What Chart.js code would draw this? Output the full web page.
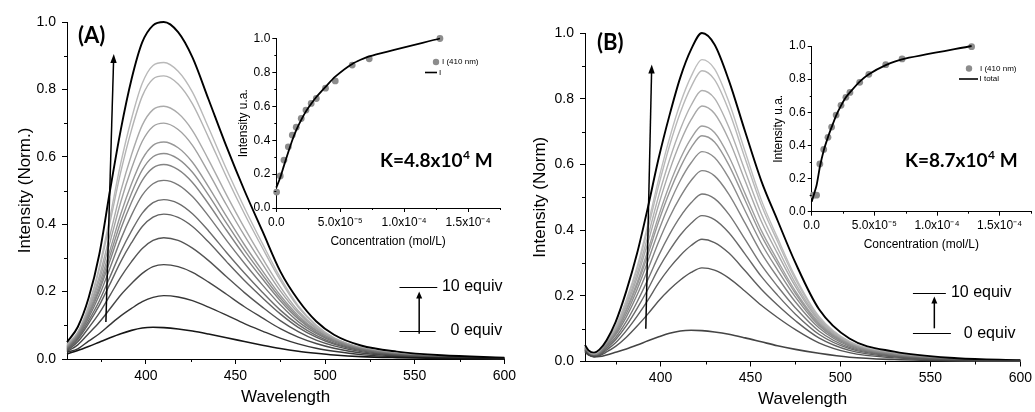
<!DOCTYPE html>
<html><head><meta charset="utf-8">
<script src="https://cdn.jsdelivr.net/npm/chart.js@4/dist/chart.umd.min.js"></script>
<style>
html,body{margin:0;padding:0;background:#fff;}
#wrap{position:relative;width:1035px;height:412px;overflow:hidden;background:#fff;}
canvas{position:absolute;}
</style></head><body>
<div id="wrap">
<canvas id="mainA" width="520" height="412" style="left:0;top:0"></canvas>
<canvas id="mainB" width="515" height="412" style="left:520px;top:0"></canvas>
<canvas id="insetA" width="285" height="230" style="left:225px;top:25px"></canvas>
<canvas id="insetB" width="275" height="228" style="left:760px;top:30px"></canvas>
</div>
<script>
// ---------------- DATA ----------------
// Panel A: wavelengths (nm) and normalized intensity for each titration step
const WL_A = [356,362,368,374,380,386,392,398,404,410,418,426,435,445,455,465,475,485,495,505,520,540,565,600];
const A_00 = [0.015,0.025,0.037,0.05,0.063,0.075,0.085,0.092,0.094,0.093,0.089,0.083,0.074,0.063,0.052,0.041,0.031,0.023,0.017,0.012,0.007,0.004,0.002,0.001];
const A_01 = [0.02,0.030,0.053,0.075,0.102,0.128,0.150,0.170,0.183,0.188,0.184,0.173,0.154,0.130,0.105,0.083,0.062,0.045,0.032,0.023,0.013,0.007,0.003,0.001];
const A_02 = [0.022,0.042,0.075,0.109,0.149,0.190,0.224,0.254,0.274,0.28,0.274,0.257,0.228,0.192,0.155,0.122,0.090,0.065,0.046,0.032,0.018,0.009,0.004,0.001];
const A_03 = [0.024,0.051,0.092,0.136,0.189,0.243,0.289,0.328,0.352,0.36,0.352,0.329,0.292,0.244,0.197,0.154,0.114,0.081,0.056,0.039,0.022,0.011,0.005,0.002];
const A_04 = [0.026,0.058,0.105,0.159,0.223,0.289,0.345,0.393,0.421,0.43,0.420,0.393,0.347,0.289,0.233,0.182,0.134,0.094,0.065,0.044,0.025,0.012,0.006,0.002];
const A_05 = [0.028,0.062,0.113,0.172,0.244,0.318,0.380,0.433,0.464,0.473,0.462,0.431,0.380,0.316,0.255,0.198,0.145,0.102,0.070,0.047,0.027,0.013,0.006,0.002];
const A_06 = [0.03,0.066,0.122,0.189,0.270,0.355,0.427,0.486,0.520,0.53,0.517,0.482,0.424,0.352,0.284,0.220,0.161,0.111,0.076,0.051,0.029,0.014,0.006,0.002];
const A_07 = [0.032,0.070,0.129,0.202,0.292,0.386,0.465,0.530,0.567,0.577,0.562,0.524,0.460,0.382,0.307,0.238,0.173,0.119,0.080,0.054,0.030,0.015,0.006,0.003];
const A_08 = [0.034,0.071,0.134,0.210,0.307,0.407,0.492,0.561,0.600,0.61,0.594,0.554,0.486,0.403,0.323,0.250,0.181,0.124,0.084,0.056,0.031,0.015,0.007,0.003];
const A_09 = [0.036,0.073,0.138,0.220,0.323,0.430,0.520,0.593,0.634,0.644,0.627,0.584,0.511,0.423,0.339,0.262,0.189,0.129,0.086,0.057,0.032,0.015,0.007,0.003];
const A_10 = [0.038,0.076,0.144,0.233,0.347,0.466,0.565,0.646,0.690,0.70,0.681,0.634,0.553,0.457,0.366,0.282,0.202,0.137,0.090,0.060,0.032,0.015,0.007,0.003];
const A_11 = [0.04,0.077,0.149,0.245,0.368,0.498,0.606,0.694,0.740,0.75,0.729,0.678,0.591,0.487,0.389,0.299,0.214,0.143,0.094,0.061,0.033,0.016,0.007,0.003];
const A_12 = [0.043,0.079,0.156,0.265,0.406,0.555,0.680,0.780,0.831,0.84,0.816,0.757,0.657,0.540,0.431,0.330,0.234,0.154,0.099,0.063,0.034,0.016,0.007,0.003];
const A_13 = [0.045,0.079,0.158,0.273,0.422,0.581,0.713,0.818,0.871,0.88,0.854,0.792,0.686,0.563,0.449,0.343,0.242,0.158,0.101,0.063,0.033,0.016,0.007,0.003];
const A_14 = [0.05,0.095,0.18,0.31,0.50,0.68,0.83,0.94,0.99,1.0,0.97,0.895,0.77,0.63,0.50,0.38,0.26,0.175,0.112,0.072,0.04,0.022,0.011,0.004];

// Panel B
const WL_B = [358,360,363,366,370,375,381,387,393,399,405,411,417,423,430,438,447,456,465,475,488,505,530,565,600];
const B_00 = [0.03,0.02,0.014,0.015,0.02,0.028,0.038,0.05,0.063,0.075,0.086,0.093,0.095,0.094,0.09,0.083,0.072,0.06,0.048,0.037,0.025,0.013,0.006,0.002,0.001];
const B_01 = [0.032,0.02,0.015,0.018,0.029,0.046,0.074,0.108,0.145,0.185,0.219,0.248,0.271,0.285,0.278,0.254,0.214,0.171,0.134,0.097,0.057,0.027,0.011,0.004,0.001];
const B_02 = [0.034,0.021,0.016,0.019,0.035,0.057,0.094,0.138,0.187,0.240,0.285,0.323,0.353,0.372,0.362,0.330,0.276,0.220,0.172,0.124,0.072,0.034,0.014,0.005,0.001];
const B_03 = [0.035,0.022,0.016,0.020,0.040,0.066,0.109,0.162,0.220,0.284,0.338,0.385,0.421,0.444,0.432,0.392,0.327,0.259,0.202,0.144,0.083,0.039,0.016,0.005,0.002];
const B_04 = [0.036,0.023,0.017,0.022,0.045,0.073,0.122,0.182,0.250,0.323,0.387,0.441,0.483,0.51,0.496,0.448,0.372,0.294,0.229,0.163,0.093,0.043,0.018,0.006,0.002];
const B_05 = [0.038,0.024,0.018,0.024,0.049,0.081,0.136,0.203,0.281,0.365,0.439,0.501,0.551,0.581,0.565,0.509,0.421,0.331,0.257,0.181,0.103,0.047,0.020,0.006,0.002];
const B_06 = [0.039,0.025,0.018,0.025,0.051,0.086,0.146,0.220,0.306,0.399,0.481,0.551,0.605,0.639,0.621,0.558,0.459,0.360,0.279,0.196,0.110,0.050,0.021,0.007,0.002];
const B_07 = [0.040,0.026,0.019,0.026,0.054,0.090,0.155,0.233,0.326,0.427,0.516,0.591,0.651,0.687,0.668,0.598,0.491,0.384,0.297,0.207,0.115,0.053,0.022,0.007,0.003];
const B_08 = [0.041,0.026,0.019,0.027,0.054,0.092,0.160,0.241,0.339,0.444,0.538,0.617,0.679,0.717,0.697,0.624,0.511,0.399,0.308,0.214,0.119,0.054,0.023,0.007,0.003];
const B_09 = [0.042,0.027,0.020,0.028,0.057,0.097,0.169,0.256,0.363,0.478,0.581,0.668,0.736,0.778,0.755,0.675,0.550,0.427,0.329,0.228,0.125,0.056,0.024,0.008,0.003];
const B_10 = [0.043,0.028,0.021,0.029,0.058,0.101,0.176,0.268,0.382,0.505,0.614,0.707,0.780,0.825,0.801,0.713,0.580,0.450,0.346,0.238,0.130,0.058,0.025,0.008,0.003];
const B_11 = [0.044,0.029,0.021,0.030,0.059,0.104,0.184,0.282,0.405,0.537,0.657,0.758,0.836,0.885,0.858,0.763,0.618,0.477,0.366,0.250,0.135,0.060,0.026,0.008,0.003];
const B_12 = [0.045,0.030,0.022,0.031,0.060,0.106,0.188,0.289,0.418,0.556,0.680,0.786,0.868,0.919,0.891,0.790,0.639,0.492,0.377,0.257,0.138,0.061,0.026,0.008,0.003];
const B_13 = [0.05,0.034,0.027,0.036,0.065,0.12,0.215,0.33,0.47,0.62,0.75,0.865,0.95,1.0,0.965,0.855,0.70,0.55,0.43,0.30,0.16,0.07,0.03,0.01,0.004];

// Insets: intensity at 410 nm vs concentration, and fitted curve
const INS_A_CONC = [2.6e-7,3.1e-6,6.0e-6,9.4e-6,1.25e-5,1.56e-5,1.95e-5,2.32e-5,2.73e-5,3.13e-5,3.85e-5,4.61e-5,5.94e-5,7.27e-5,1.28e-4];
const INS_A_I    = [0.094,0.189,0.283,0.361,0.430,0.477,0.528,0.578,0.617,0.646,0.707,0.750,0.843,0.880,1.0];
const INS_A_FITX = [0,3.1e-6,6.0e-6,9.4e-6,1.25e-5,1.56e-5,1.95e-5,2.32e-5,2.73e-5,3.13e-5,3.85e-5,4.61e-5,5.94e-5,7.27e-5,1.28e-4];
const INS_A_FIT  = [0.12,0.18,0.25,0.33,0.40,0.46,0.52,0.57,0.615,0.655,0.715,0.775,0.85,0.895,1.0];

const INS_B_CONC = [1.3e-6,3.9e-6,6.5e-6,9.6e-6,1.30e-5,1.59e-5,1.95e-5,2.34e-5,2.73e-5,3.05e-5,3.83e-5,4.56e-5,5.91e-5,7.21e-5,1.276e-4];
const INS_B_I    = [0.10,0.10,0.288,0.376,0.449,0.511,0.583,0.642,0.690,0.720,0.781,0.829,0.887,0.922,0.996];
const INS_B_FITX = [0,3.9e-6,6.5e-6,9.6e-6,1.30e-5,1.59e-5,1.95e-5,2.34e-5,2.73e-5,3.05e-5,3.83e-5,4.56e-5,5.91e-5,7.21e-5,1.276e-4];
const INS_B_FIT  = [0.06,0.16,0.27,0.37,0.45,0.51,0.58,0.64,0.69,0.72,0.785,0.83,0.885,0.92,1.0];

// Ticks
const MAIN_X_TICKS = [400,450,500,550,600];
const MAIN_X_MINOR = [375,425,475,525,575];
const MAIN_Y_TICKS = [0,0.2,0.4,0.6,0.8,1.0];
const MAIN_Y_MINOR = [0.1,0.3,0.5,0.7,0.9];
const INS_X_TICKS = [0,5e-5,1e-4,1.5e-4];
const INS_X_LABELS = ['0.0','5.0x10\u207B\u2075','1.0x10\u207B\u2074','1.5x10\u207B\u2074'];
const INS_X_MINOR = [2.5e-5,7.5e-5,1.25e-4,1.75e-4];
const INS_Y_TICKS = [0,0.2,0.4,0.6,0.8,1.0];
const INS_Y_MINOR = [0.1,0.3,0.5,0.7,0.9];

// ---------------- RENDERING ----------------
Chart.defaults.font.family = "'Liberation Sans', Arial, sans-serif";
Chart.defaults.color = '#000';

const SERIES_A = [A_00,A_01,A_02,A_03,A_04,A_05,A_06,A_07,A_08,A_09,A_10,A_11,A_12,A_13,A_14];
const COLORS_A = ['#161616','#363636','#474747','#555555','#626262','#6c6c6c','#787878','#838383','#8d8d8d','#979797','#a1a1a1','#aaaaaa','#b3b3b3','#b9b9b9','#000000'];
const SERIES_B = [B_00,B_01,B_02,B_03,B_04,B_05,B_06,B_07,B_08,B_09,B_10,B_11,B_12,B_13];
const COLORS_B = ['#444444','#555555','#5f5f5f','#6a6a6a','#767676','#828282','#8c8c8c','#969696','#9f9f9f','#a8a8a8','#b0b0b0','#b8b8b8','#bdbdbd','#000000'];

const minorTicks = {
  id: 'minorTicks',
  afterDraw(chart, args, opts) {
    const {ctx, chartArea} = chart; const x = chart.scales.x, y = chart.scales.y;
    ctx.save(); ctx.strokeStyle = '#000'; ctx.lineWidth = 1; ctx.beginPath();
    (opts.x || []).forEach(v => { const px = Math.round(x.getPixelForValue(v)) + 0.5; ctx.moveTo(px, chartArea.bottom); ctx.lineTo(px, chartArea.bottom + opts.len); });
    (opts.y || []).forEach(v => { const py = Math.round(y.getPixelForValue(v)) + 0.5; ctx.moveTo(chartArea.left, py); ctx.lineTo(chartArea.left - opts.len, py); });
    ctx.stroke(); ctx.restore();
  }
};

function arrow(ctx, x0, y0, x1, y1, head, w) {
  const a = Math.atan2(y1 - y0, x1 - x0);
  ctx.beginPath(); ctx.moveTo(x0, y0); ctx.lineTo(x1 - Math.cos(a) * head * 0.6, y1 - Math.sin(a) * head * 0.6); ctx.stroke();
  ctx.beginPath();
  ctx.moveTo(x1, y1);
  ctx.lineTo(x1 - head * Math.cos(a) + w * Math.sin(a), y1 - head * Math.sin(a) - w * Math.cos(a));
  ctx.lineTo(x1 - head * Math.cos(a) - w * Math.sin(a), y1 - head * Math.sin(a) + w * Math.cos(a));
  ctx.closePath(); ctx.fill();
}

function kText(ctx, x, y, base, sup, tail) {
  ctx.textAlign = 'left'; ctx.textBaseline = 'alphabetic';
  ctx.font = "bold 19px Lato, 'Open Sans', sans-serif"; ctx.fillText(base, x, y);
  let w = ctx.measureText(base).width;
  ctx.font = "bold 12px Lato, 'Open Sans', sans-serif"; ctx.fillText(sup, x + w + 0.5, y - 8);
  w += ctx.measureText(sup).width + 0.5;
  ctx.font = "bold 19px Lato, 'Open Sans', sans-serif"; ctx.fillText(tail, x + w, y);
}

function makeAnnot(id, cfg) {
  return {
    id,
    afterDraw(chart) {
      const ctx = chart.ctx, xs = chart.scales.x, ys = chart.scales.y;
      const X = v => xs.getPixelForValue(v), Y = v => ys.getPixelForValue(v);
      ctx.save();
      ctx.strokeStyle = '#000'; ctx.fillStyle = '#000'; ctx.lineWidth = 1.5;
      // long arrow
      arrow(ctx, X(cfg.arrow[0]), Y(cfg.arrow[1]), X(cfg.arrow[2]), Y(cfg.arrow[3]), 9, 3.2);
      // equiv legend
      ctx.lineWidth = 1.2;
      ctx.beginPath();
      ctx.moveTo(X(cfg.l10[0]), Math.round(Y(cfg.l10[2])) + 0.5); ctx.lineTo(X(cfg.l10[1]), Math.round(Y(cfg.l10[2])) + 0.5);
      ctx.moveTo(X(cfg.l0[0]), Math.round(Y(cfg.l0[2])) + 0.5); ctx.lineTo(X(cfg.l0[1]), Math.round(Y(cfg.l0[2])) + 0.5);
      ctx.stroke();
      ctx.lineWidth = 1.5;
      arrow(ctx, X(cfg.small[0]), Y(cfg.small[1]), X(cfg.small[0]), Y(cfg.small[2]), 7, 3);
      ctx.font = "16px 'Liberation Sans', Arial, sans-serif";
      ctx.textAlign = 'left'; ctx.textBaseline = 'middle';
      ctx.fillText('10 equiv', X(cfg.t10[0]), Y(cfg.t10[1]));
      ctx.fillText('0 equiv', X(cfg.t0[0]), Y(cfg.t0[1]));
      // panel label
      ctx.textBaseline = 'alphabetic';
      ctx.font = "bold 22px Lato, 'Open Sans', sans-serif";
      ctx.fillText(cfg.label, cfg.labelPos[0], cfg.labelPos[1]);
      kText(ctx, cfg.kPos[0], cfg.kPos[1], cfg.k[0], cfg.k[1], cfg.k[2]);
      ctx.restore();
    }
  };
}

function mainChart(id, wl, series, colors, o) {
  const n = series.length;
  const datasets = series.map((s, i) => ({
    data: wl.map((x, j) => ({x, y: s[j]})),
    borderColor: colors[i],
    borderWidth: (i === n - 1) ? 1.9 : (i === 0 ? 1.6 : 1.4),
    pointRadius: 0, fill: false, clip: false,
    cubicInterpolationMode: 'monotone',
    order: (i === n - 1 || i === 0) ? 0 : 1
  }));
  return new Chart(document.getElementById(id), {
    type: 'line',
    data: {datasets},
    plugins: [minorTicks, makeAnnot('annot_' + id, o.annot)],
    options: {
      responsive: false, animation: false, events: [],
      layout: {padding: o.pad},
      plugins: {legend: {display: false}, tooltip: {enabled: false},
        minorTicks: {x: MAIN_X_MINOR, y: MAIN_Y_MINOR, len: 3}},
      scales: {
        x: {
          type: 'linear', min: o.xmin, max: 600,
          afterBuildTicks: s => { s.ticks = MAIN_X_TICKS.map(v => ({value: v})); },
          afterFit: s => { s.height = o.xh; },
          ticks: {color: '#000', font: {size: 14}, padding: o.xpad, maxRotation: 0, autoSkip: false, callback: v => String(v)},
          grid: {drawOnChartArea: false, drawTicks: true, tickLength: 5, color: '#000', lineWidth: 1},
          border: {display: true, color: '#000', width: 1},
          title: {display: true, text: 'Wavelength', color: '#000', font: {size: 17}, padding: {top: 0, bottom: o.xtp}}
        },
        y: {
          type: 'linear', min: 0, max: 1,
          afterBuildTicks: s => { s.ticks = MAIN_Y_TICKS.map(v => ({value: v})); },
          afterFit: s => { s.width = o.yw; },
          ticks: {color: '#000', font: {size: 14}, padding: 6, autoSkip: false, callback: v => v.toFixed(1)},
          grid: {drawOnChartArea: false, drawTicks: true, tickLength: 5, color: '#000', lineWidth: 1},
          border: {display: true, color: '#000', width: 1},
          title: {display: true, text: o.ytitle, color: '#000', font: {size: 17}, padding: {top: o.ytp, bottom: 0}}
        }
      }
    }
  });
}

mainChart('mainA', WL_A, SERIES_A, COLORS_A, {
  xmin: 356, pad: {top: 22, right: 11, left: 0, bottom: 0}, xh: 53, yw: 67, xpad: 4, xtp: 4, ytp: 15,
  ytitle: 'Intensity (Norm.)',
  annot: {
    arrow: [377.7, 0.11, 382.1, 0.905],
    l10: [541.5, 562.6, 0.214], l0: [541.5, 561.7, 0.084],
    small: [552.5, 0.075, 0.2], t10: [565.2, 0.214], t0: [570, 0.084],
    label: '(A)', labelPos: [78, 43], kPos: [380, 167], k: ['K=4.8x10', '4', ' M']
  }
});

mainChart('mainB', WL_B, SERIES_B, COLORS_B, {
  xmin: 358, pad: {top: 33, right: 11, left: 0, bottom: 0}, xh: 50.5, yw: 65, xpad: 3, xtp: 2, ytp: 10,
  ytitle: 'Intensity (Norm)',
  annot: {
    arrow: [391.8, 0.10, 395.1, 0.904],
    l10: [540.3, 558.6, 0.21], l0: [540.3, 561.4, 0.086],
    small: [552.2, 0.101, 0.198], t10: [561.4, 0.21], t0: [568.6, 0.086],
    label: '(B)', labelPos: [77, 50], kPos: [385, 167], k: ['K=8.7x10', '4', ' M']
  }
});

function insetLegend(id, cfg) {
  return {
    id,
    afterDraw(chart) {
      const ctx = chart.ctx;
      ctx.save();
      ctx.fillStyle = '#8c8c8c';
      ctx.beginPath(); ctx.arc(cfg.dot[0], cfg.dot[1], 3.2, 0, Math.PI * 2); ctx.fill();
      ctx.strokeStyle = '#000'; ctx.lineWidth = 1.6;
      ctx.beginPath(); ctx.moveTo(cfg.line[0], cfg.line[2]); ctx.lineTo(cfg.line[1], cfg.line[2]); ctx.stroke();
      ctx.fillStyle = '#000';
      ctx.font = "8px 'Liberation Sans', Arial, sans-serif";
      ctx.textAlign = 'left'; ctx.textBaseline = 'middle';
      ctx.fillText('I (410 nm)', cfg.t1[0], cfg.t1[1]);
      ctx.fillText(cfg.lineText, cfg.t2[0], cfg.t2[1]);
      ctx.restore();
    }
  };
}

function insetChart(id, cx, cy, fx, fy, o) {
  return new Chart(document.getElementById(id), {
    type: 'scatter',
    data: {datasets: [
      {type: 'line', data: fx.map((x, i) => ({x, y: fy[i]})), borderColor: '#000', borderWidth: 1.8, pointRadius: 0, tension: 0.2, fill: false, clip: false, order: 0},
      {data: cx.map((x, i) => ({x, y: cy[i]})), backgroundColor: '#8c8c8c', borderColor: '#8c8c8c', pointRadius: 3.4, borderWidth: 0, clip: false, order: 1}
    ]},
    plugins: [minorTicks, insetLegend('leg_' + id, o.legend)],
    options: {
      responsive: false, animation: false, events: [],
      layout: {padding: o.pad},
      plugins: {legend: {display: false}, tooltip: {enabled: false},
        minorTicks: {x: INS_X_MINOR, y: INS_Y_MINOR, len: 2}},
      scales: {
        x: {
          type: 'linear', min: 0, max: 1.75e-4,
          afterBuildTicks: s => { s.ticks = INS_X_TICKS.map(v => ({value: v})); },
          afterFit: s => { s.height = o.xh; },
          ticks: {color: '#000', font: {size: 12}, padding: 3, maxRotation: 0, autoSkip: false, callback: (v, i) => INS_X_LABELS[i]},
          grid: {drawOnChartArea: false, drawTicks: true, tickLength: 4, color: '#000', lineWidth: 1},
          border: {display: true, color: '#000', width: 1},
          title: {display: true, text: 'Concentration (mol/L)', color: '#000', font: {size: 12}, padding: {top: 0, bottom: o.xtp}}
        },
        y: {
          type: 'linear', min: 0, max: 1,
          afterBuildTicks: s => { s.ticks = INS_Y_TICKS.map(v => ({value: v})); },
          afterFit: s => { s.width = o.yw; },
          ticks: {color: '#000', font: {size: 12}, padding: 2, autoSkip: false, callback: v => v.toFixed(1)},
          grid: {drawOnChartArea: false, drawTicks: true, tickLength: 4, color: '#000', lineWidth: 1},
          border: {display: true, color: '#000', width: 1},
          title: {display: true, text: 'Intensity u.a.', color: '#000', font: {size: 12}, padding: {top: o.ytp, bottom: 0}}
        }
      }
    }
  });
}

insetChart('insetA', INS_A_CONC, INS_A_I, INS_A_FITX, INS_A_FIT, {
  pad: {top: 13.5, right: 10, left: 0, bottom: 0}, xh: 47, yw: 51.3, xtp: 6, ytp: 11,
  legend: {dot: [211, 37], line: [200, 212, 47.5], t1: [217, 37], t2: [214, 47.5], lineText: 'I'}
});
insetChart('insetB', INS_B_CONC, INS_B_I, INS_B_FITX, INS_B_FIT, {
  pad: {top: 16, right: 1, left: 0, bottom: 0}, xh: 46.3, yw: 51.7, xtp: 6, ytp: 11,
  legend: {dot: [209, 38.5], line: [199, 218, 49], t1: [220, 38.5], t2: [219.5, 49], lineText: 'I total'}
});
</script>
</body></html>
